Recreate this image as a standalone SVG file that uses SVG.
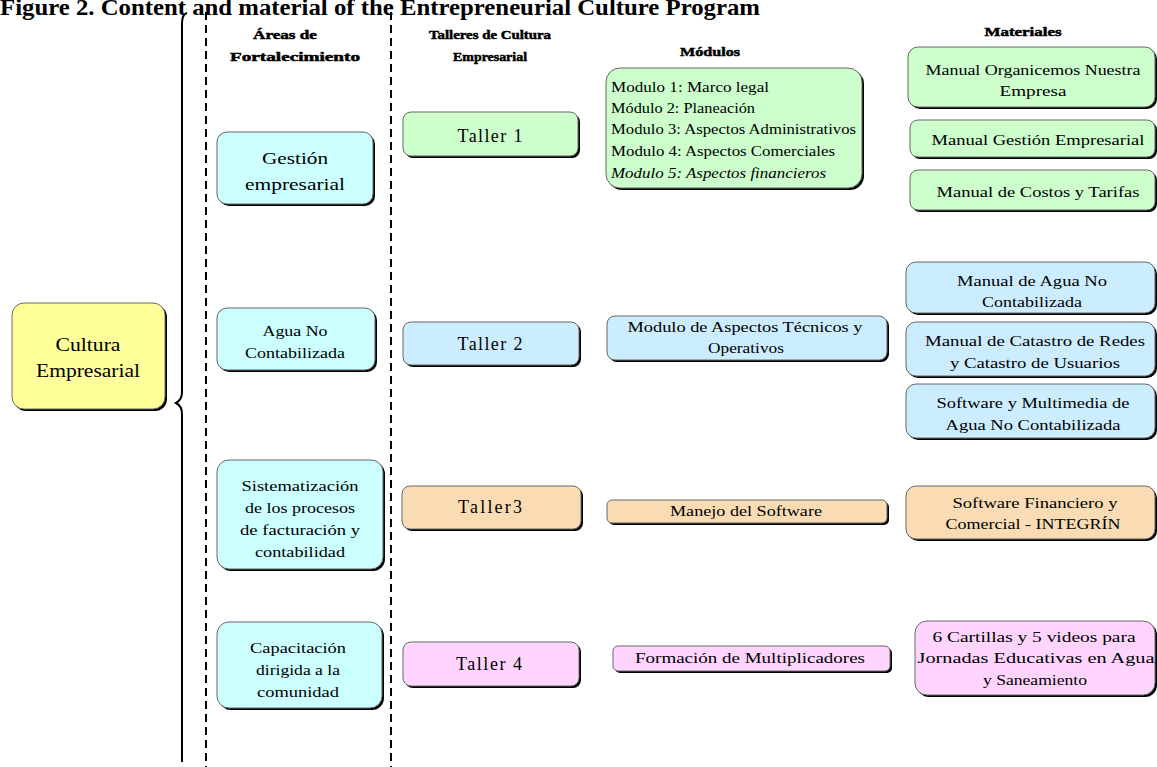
<svg xmlns="http://www.w3.org/2000/svg" width="1157" height="767" viewBox="0 0 1157 767">
<style>
text{font-family:"Liberation Serif","Times New Roman",serif;fill:#000}
.t{text-anchor:middle}
.h{font-weight:bold;font-size:13px;text-anchor:middle;stroke:#000;stroke-width:0.5}
.box{stroke:#666;stroke-width:1}
.sh{fill:#000}
.y{fill:#FFFF99}.c{fill:#CCFFFF}.g{fill:#CCFFCC}.b{fill:#CCECFF}.o{fill:#FADCB4}.p{fill:#FFD5FF}
.s14{font-size:14px}.s15{font-size:15px}.s17{font-size:17px}.s18{font-size:18px}
</style>
<rect width="1157" height="767" fill="#fff"/>
<text x="0" y="15" style="font-size:24px;font-weight:bold" textLength="760" lengthAdjust="spacingAndGlyphs">Figure 2. Content and material of the Entrepreneurial Culture Program</text>

<g id="connectors" fill="none" stroke="#000">
<path d="M187,13 Q182,14 182,24 L182,392 Q182,400 176,403 Q182,406 182,414 L182,762" stroke-width="2"/>
<line x1="206" y1="12" x2="206" y2="767" stroke-width="2" stroke-dasharray="8,5"/>
<line x1="391" y1="12" x2="391" y2="767" stroke-width="2" stroke-dasharray="8,5"/>
</g>

<g id="headers">
<text class="h" x="285" y="39" textLength="64" lengthAdjust="spacingAndGlyphs">Áreas de</text>
<text class="h" x="295" y="61" textLength="130" lengthAdjust="spacingAndGlyphs">Fortalecimiento</text>
<text class="h" x="490" y="39" textLength="122" lengthAdjust="spacingAndGlyphs">Talleres de Cultura</text>
<text class="h" x="490" y="61" textLength="74" lengthAdjust="spacingAndGlyphs">Empresarial</text>
<text class="h" x="710" y="56" textLength="60" lengthAdjust="spacingAndGlyphs">Módulos</text>
<text class="h" x="1023" y="36" textLength="77" lengthAdjust="spacingAndGlyphs">Materiales</text>
</g>

<g id="cultura"><rect class="sh" x="14" y="305" width="153" height="106" rx="12"/><rect class="box y" x="12" y="303" width="153" height="106" rx="12"/>
<text class="t s18" x="88" y="351" textLength="65" lengthAdjust="spacingAndGlyphs">Cultura</text><text class="t s18" x="88" y="377" textLength="104" lengthAdjust="spacingAndGlyphs">Empresarial</text></g>

<g id="area1"><rect class="sh" x="219" y="134" width="156" height="72" rx="10"/><rect class="box c" x="217" y="132" width="156" height="72" rx="10"/>
<text class="t s17" x="295" y="164" textLength="66" lengthAdjust="spacingAndGlyphs">Gestión</text><text class="t s17" x="295" y="190" textLength="100" lengthAdjust="spacingAndGlyphs">empresarial</text></g>
<g id="area2"><rect class="sh" x="219" y="310" width="158" height="62" rx="10"/><rect class="box c" x="217" y="308" width="158" height="62" rx="10"/>
<text class="t s15" x="295" y="336" textLength="65" lengthAdjust="spacingAndGlyphs">Agua No</text><text class="t s15" x="295" y="358" textLength="100" lengthAdjust="spacingAndGlyphs">Contabilizada</text></g>
<g id="area3"><rect class="sh" x="219" y="462" width="166" height="109" rx="12"/><rect class="box c" x="217" y="460" width="166" height="109" rx="12"/>
<text class="t s15" x="300" y="491" textLength="117" lengthAdjust="spacingAndGlyphs">Sistematización</text><text class="t s15" x="300" y="513" textLength="110" lengthAdjust="spacingAndGlyphs">de los procesos</text><text class="t s15" x="300" y="535" textLength="120" lengthAdjust="spacingAndGlyphs">de facturación y</text><text class="t s15" x="300" y="557" textLength="90" lengthAdjust="spacingAndGlyphs">contabilidad</text></g>
<g id="area4"><rect class="sh" x="219" y="624" width="165" height="86" rx="12"/><rect class="box c" x="217" y="622" width="165" height="86" rx="12"/>
<text class="t s15" x="298" y="653" textLength="96" lengthAdjust="spacingAndGlyphs">Capacitación</text><text class="t s15" x="298" y="675" textLength="84" lengthAdjust="spacingAndGlyphs">dirigida a la</text><text class="t s15" x="298" y="697" textLength="82" lengthAdjust="spacingAndGlyphs">comunidad</text></g>

<g id="taller1"><rect class="sh" x="405" y="114" width="175" height="44" rx="8"/><rect class="box g" x="403" y="112" width="175" height="44" rx="8"/><text class="t s18" x="490" y="142" textLength="65" lengthAdjust="spacing">Taller 1</text></g>
<g id="taller2"><rect class="sh" x="405" y="324" width="176" height="43" rx="8"/><rect class="box b" x="403" y="322" width="176" height="43" rx="8"/><text class="t s18" x="490" y="350" textLength="65" lengthAdjust="spacing">Taller 2</text></g>
<g id="taller3"><rect class="sh" x="404" y="488" width="179" height="43" rx="8"/><rect class="box o" x="402" y="486" width="179" height="43" rx="8"/><text class="t s18" x="490" y="513" textLength="64" lengthAdjust="spacing">Taller3</text></g>
<g id="taller4"><rect class="sh" x="405" y="644" width="176" height="44" rx="8"/><rect class="box p" x="403" y="642" width="176" height="44" rx="8"/><text class="t s18" x="489" y="670" textLength="66" lengthAdjust="spacing">Taller 4</text></g>

<g id="mod1"><rect class="sh" x="608" y="70" width="256" height="120" rx="14"/><rect class="box g" x="606" y="68" width="256" height="120" rx="14"/>
<text class="s15" x="611" y="92" textLength="158" lengthAdjust="spacingAndGlyphs">Modulo 1: Marco legal</text>
<text class="s15" x="611" y="113" textLength="144" lengthAdjust="spacingAndGlyphs">Módulo 2: Planeación</text>
<text class="s15" x="611" y="134" textLength="245" lengthAdjust="spacingAndGlyphs">Modulo 3: Aspectos Administrativos</text>
<text class="s15" x="611" y="156" textLength="224" lengthAdjust="spacingAndGlyphs">Modulo 4: Aspectos Comerciales</text>
<text class="s15" x="611" y="178" font-style="italic" textLength="215" lengthAdjust="spacingAndGlyphs">Modulo 5: Aspectos financieros</text></g>
<g id="mod2"><rect class="sh" x="609" y="318" width="280" height="44" rx="8"/><rect class="box b" x="607" y="316" width="280" height="44" rx="8"/>
<text class="t s15" x="745" y="332" textLength="235" lengthAdjust="spacingAndGlyphs">Modulo de Aspectos Técnicos y</text><text class="t s15" x="746" y="353" textLength="76" lengthAdjust="spacingAndGlyphs">Operativos</text></g>
<g id="mod3"><rect class="sh" x="609" y="502" width="280" height="23" rx="5"/><rect class="box o" x="607" y="500" width="280" height="23" rx="5"/>
<text class="t s14" x="746" y="516" textLength="152" lengthAdjust="spacingAndGlyphs">Manejo del Software</text></g>
<g id="mod4"><rect class="sh" x="615" y="648" width="277" height="25" rx="5"/><rect class="box p" x="613" y="646" width="277" height="25" rx="5"/>
<text class="t s14" x="750" y="663" textLength="230" lengthAdjust="spacingAndGlyphs">Formación de Multiplicadores</text></g>

<g id="mat1"><rect class="sh" x="910" y="49" width="247" height="60" rx="10"/><rect class="box g" x="908" y="47" width="247" height="60" rx="10"/>
<text class="t s15" x="1033" y="75" textLength="215" lengthAdjust="spacingAndGlyphs">Manual Organicemos Nuestra</text><text class="t s15" x="1033" y="96" textLength="67" lengthAdjust="spacingAndGlyphs">Empresa</text></g>
<g id="mat2"><rect class="sh" x="912" y="122" width="245" height="37" rx="8"/><rect class="box g" x="910" y="120" width="245" height="37" rx="8"/>
<text class="t s15" x="1038" y="145" textLength="213" lengthAdjust="spacingAndGlyphs">Manual Gestión Empresarial</text></g>
<g id="mat3"><rect class="sh" x="912" y="172" width="245" height="40" rx="8"/><rect class="box g" x="910" y="170" width="245" height="40" rx="8"/>
<text class="t s15" x="1038" y="197" textLength="203" lengthAdjust="spacingAndGlyphs">Manual de Costos y Tarifas</text></g>
<g id="mat4"><rect class="sh" x="908" y="264" width="249" height="51" rx="10"/><rect class="box b" x="906" y="262" width="249" height="51" rx="10"/>
<text class="t s15" x="1032" y="286" textLength="150" lengthAdjust="spacingAndGlyphs">Manual de Agua No</text><text class="t s15" x="1032" y="307" textLength="100" lengthAdjust="spacingAndGlyphs">Contabilizada</text></g>
<g id="mat5"><rect class="sh" x="908" y="324" width="249" height="54" rx="10"/><rect class="box b" x="906" y="322" width="249" height="54" rx="10"/>
<text class="t s15" x="1035" y="346" textLength="220" lengthAdjust="spacingAndGlyphs">Manual de Catastro de Redes</text><text class="t s15" x="1035" y="368" textLength="170" lengthAdjust="spacingAndGlyphs">y Catastro de Usuarios</text></g>
<g id="mat6"><rect class="sh" x="908" y="386" width="249" height="54" rx="10"/><rect class="box b" x="906" y="384" width="249" height="54" rx="10"/>
<text class="t s15" x="1033" y="408" textLength="193" lengthAdjust="spacingAndGlyphs">Software y Multimedia de</text><text class="t s15" x="1033" y="430" textLength="175" lengthAdjust="spacingAndGlyphs">Agua No Contabilizada</text></g>
<g id="mat7"><rect class="sh" x="908" y="488" width="249" height="53" rx="10"/><rect class="box o" x="906" y="486" width="249" height="53" rx="10"/>
<text class="t s15" x="1035" y="508" textLength="165" lengthAdjust="spacingAndGlyphs">Software Financiero y</text><text class="t s15" x="1033" y="529" textLength="175" lengthAdjust="spacingAndGlyphs">Comercial - INTEGRÍN</text></g>
<g id="mat8"><rect class="sh" x="917" y="623" width="240" height="74" rx="12"/><rect class="box p" x="915" y="621" width="240" height="74" rx="12"/>
<text class="t s15" x="1034" y="642" textLength="203" lengthAdjust="spacingAndGlyphs">6 Cartillas y 5 videos para</text><text class="t s15" x="1036" y="663" textLength="237" lengthAdjust="spacingAndGlyphs">Jornadas Educativas en Agua</text><text class="t s15" x="1035" y="685" textLength="104" lengthAdjust="spacingAndGlyphs">y Saneamiento</text></g>
</svg>
